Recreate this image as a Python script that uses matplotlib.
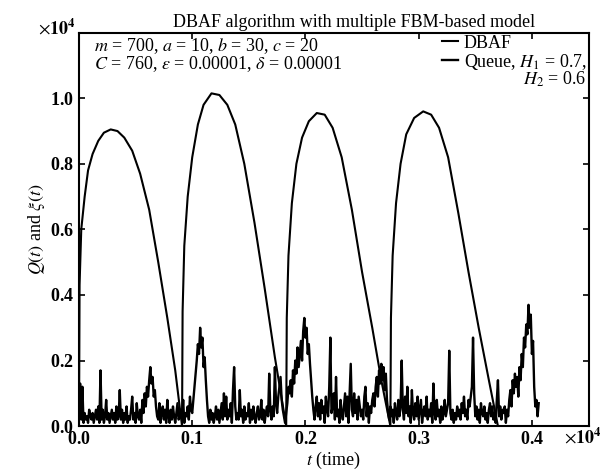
import matplotlib
matplotlib.use("Agg")
import matplotlib.pyplot as plt
import numpy as np

plt.rcParams['font.family'] = ['Liberation Serif', 'DejaVu Serif']
plt.rcParams['mathtext.fontset'] = 'stix'

# DBAF curve (t and value in units of 1e4)
dbaf_t = [0.0, 0.0005, 0.002, 0.005, 0.008, 0.012, 0.017, 0.022, 0.028, 0.034, 0.04, 0.047, 0.054, 0.062, 0.07, 0.078, 0.085, 0.091,
          0.0915, 0.093, 0.096, 0.1, 0.105, 0.11, 0.117, 0.124, 0.131, 0.138, 0.146, 0.155, 0.164, 0.173, 0.183,
          0.1835, 0.185, 0.188, 0.192, 0.197, 0.203, 0.21, 0.217, 0.224, 0.232, 0.241, 0.25, 0.259, 0.267, 0.275,
          0.2755, 0.277, 0.28, 0.284, 0.289, 0.296, 0.304, 0.311, 0.318, 0.326, 0.335, 0.344, 0.353, 0.362, 0.37, 0.406]
dbaf_v = [0.0, 0.43, 0.6, 0.7, 0.78, 0.83, 0.87, 0.895, 0.905, 0.9, 0.88, 0.84, 0.77, 0.66, 0.5, 0.33, 0.17, 0.0,
          0.35, 0.55, 0.7, 0.82, 0.92, 0.98, 1.015, 1.01, 0.98, 0.92, 0.8, 0.62, 0.42, 0.21, 0.0,
          0.33, 0.52, 0.68, 0.8, 0.88, 0.93, 0.955, 0.95, 0.91, 0.82, 0.66, 0.47, 0.3, 0.14, 0.0,
          0.33, 0.52, 0.68, 0.8, 0.89, 0.94, 0.96, 0.95, 0.91, 0.82, 0.65, 0.47, 0.3, 0.14, 0.0, 0.0]

# queue samples every 0.001 (x1e4), values in hundredths of 1e4
queue_raw = [
    3, 13, 2, 12, 1, 4, 2, 3, 1, 5,
    3, 2, 4, 1, 3, 5, 2, 6, 1, 17,
    2, 5, 1, 3, 8, 2, 4, 1, 3, 5,
    2, 4, 1, 6, 2, 3, 11, 2, 5, 1,
    4, 2, 6, 1, 3, 2, 5, 9, 2, 4,
    1, 7, 3, 2, 5, 1, 8, 4, 10, 6,
    12, 9, 14, 18, 13, 15, 9, 11, 6, 3,
    2, 7, 1, 4, 6, 2, 5, 1, 8, 3,
    1, 5, 2, 6, 3, 1, 4, 7, 2, 3,
    5, 2, 8, 1, 4, 3, 6, 2, 9, 5,
    4, 8, 12, 16, 20, 25, 22, 30, 24, 27,
    18, 21, 14, 8, 3, 1, 5, 2, 4, 1,
    3, 6, 2, 5, 1, 4, 7, 2, 10, 3,
    9, 2, 5, 3, 7, 1, 11, 18, 6, 2,
    4, 2, 11, 3, 5, 1, 6, 2, 4, 3,
    7, 1, 5, 2, 6, 3, 1, 4, 6, 2,
    3, 8, 2, 5, 1, 4, 6, 3, 16, 5,
    2, 6, 3, 18, 7, 4, 9, 12, 15, 8,
    5, 3, 1, 4, 7, 12, 10, 14, 9, 17,
    13, 20, 16, 24, 18, 22, 26, 20, 29, 33,
    27, 30, 22, 25, 19, 14, 9, 5, 2, 6,
    9, 3, 7, 2, 8, 4, 6, 1, 9, 5,
    3, 12, 27, 4, 6, 10, 2, 15, 3, 5,
    1, 8, 4, 2, 6, 10, 3, 9, 1, 10,
    19, 5, 3, 10, 4, 8, 2, 9, 6, 3,
    5, 2, 9, 12, 3, 7, 1, 6, 4, 8,
    10, 6, 12, 15, 9, 17, 13, 19, 14, 18,
    11, 16, 8, 4, 2, 6, 3, 5, 1, 7,
    4, 2, 8, 3, 6, 20, 5, 2, 9, 4,
    12, 3, 6, 1, 11, 4, 2, 7, 3, 9,
    2, 5, 8, 1, 4, 6, 3, 9, 2, 5,
    3, 7, 1, 13, 4, 2, 8, 3, 5, 1,
    6, 2, 4, 8, 3, 5, 7, 23, 4, 2,
    5, 1, 4, 2, 6, 3, 5, 2, 7, 4,
    9, 3, 5, 2, 8, 6, 9, 12, 27, 10,
    3, 6, 2, 5, 1, 7, 4, 3, 6, 2,
    4, 1, 5, 7, 3, 6, 2, 4, 1, 8,
    14, 3, 6, 2, 5, 4, 6, 1, 5, 3,
    8, 11, 6, 14, 10, 16, 12, 15, 9, 18,
    14, 22, 18, 27, 24, 31, 28, 37, 30, 34,
    22, 26, 12, 6, 8, 3, 7,
]

queue = np.array(queue_raw) * 100.0
queue_t = np.arange(len(queue)) * 10.0
dbaf_t = np.array(dbaf_t) * 1e4
dbaf_v = np.array(dbaf_v) * 1e4

fig = plt.figure(figsize=(6.03, 4.74), dpi=100)
ax = fig.add_axes([0.131, 0.101, 0.845, 0.83])

ax.plot(dbaf_t, dbaf_v, color='black', lw=1.5, label='DBAF')
ax.plot(queue_t, queue, color='black', lw=1.7, label='Queue, $H_1$ = 0.7,')

ax.set_xlim(0, 4500)
ax.set_ylim(0, 12000)
ax.set_xticks([0, 1000, 2000, 3000, 4000])
ax.set_yticks([0, 2000, 4000, 6000, 8000, 10000])
ax.ticklabel_format(style='sci', scilimits=(4, 4), useMathText=True)
ax.xaxis.get_offset_text().set_visible(False)
ax.yaxis.get_offset_text().set_visible(False)
ax.tick_params(direction='in', top=True, right=True, labelsize=13, length=4, width=1.2)
for lab in ax.get_xticklabels() + ax.get_yticklabels():
    lab.set_fontweight('bold')
for s in ax.spines.values():
    s.set_linewidth(1.5)

fig.text(0.063, 0.94, r'$\times\mathbf{10^4}$', fontsize=13, ha='left', va='center')
fig.text(0.935, 0.077, r'$\times\mathbf{10^4}$', fontsize=13, ha='left', va='center')

ax.set_title('DBAF algorithm with multiple FBM-based model', fontsize=13, pad=4, x=0.54)
ax.set_xlabel('$t$ (time)', fontsize=13, labelpad=1)
ax.set_ylabel(r'$Q(t)$ and $\xi(t)$', fontsize=13, labelpad=2)

ax.text(0.03, 0.992, '$m$ = 700, $a$ = 10, $b$ = 30, $c$ = 20\n'
        r'$C$ = 760, $\epsilon$ = 0.00001, $\delta$ = 0.00001',
        transform=ax.transAxes, ha='left', va='top', fontsize=13, linespacing=0.9)

leg = ax.legend(loc='upper right', frameon=False, fontsize=13, handlelength=0.9,
                handletextpad=0.3, borderaxespad=0.0, borderpad=0.1, labelspacing=0.0)
ax.text(0.995, 0.905, '$H_2$ = 0.6', transform=ax.transAxes, ha='right', va='top', fontsize=13)

fig.savefig('out.png', dpi=100)
